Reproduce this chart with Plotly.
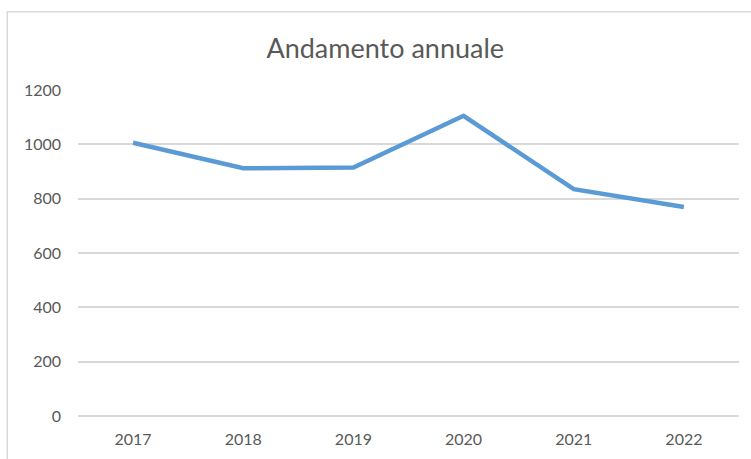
"""Line chart of the yearly trend ("Andamento annuale"), Excel-like style."""

import plotly.graph_objects as go

YEARS = ["2017", "2018", "2019", "2020", "2021", "2022"]
VALUES = [1006, 912, 915, 1105, 835, 769]
Y_TICKS = [0, 200, 400, 600, 800, 1000, 1200]

TEXT_COLOR = "#595959"
GRID_COLOR = "#d9d9d9"
LINE_COLOR = "#5b9bd5"
FONT = "Lato, 'Noto Sans', sans-serif"

fig = go.Figure(
    go.Scatter(
        x=YEARS,
        y=VALUES,
        mode="lines",
        line={"color": LINE_COLOR, "width": 4.5},
        hovertemplate="%{x}: %{y}<extra></extra>",
    )
)

fig.update_layout(
    width=751,
    height=459,
    paper_bgcolor="white",
    plot_bgcolor="white",
    showlegend=False,
    margin={"l": 78, "r": 12, "t": 90, "b": 43},
    font={"family": FONT, "color": TEXT_COLOR, "size": 16},
    title={
        "text": "Andamento annuale",
        "font": {"family": FONT, "size": 27, "color": TEXT_COLOR},
        "xref": "container",
        "yref": "container",
        "x": 0.513,
        "y": 0.895,
        "xanchor": "center",
        "yanchor": "middle",
    },
    # chart-area border, cropped at the right and bottom like the original
    shapes=[
        {
            "type": "rect",
            "xref": "paper",
            "yref": "paper",
            "x0": -0.107,
            "x1": 1.2,
            "y0": -0.4,
            "y1": 1.24,
            "line": {"color": GRID_COLOR, "width": 1.5},
            "fillcolor": "rgba(0,0,0,0)",
            "layer": "below",
        }
    ],
)

fig.update_xaxes(
    type="category",
    range=[-0.5, len(YEARS) - 0.5],
    showgrid=False,
    showline=False,
    zeroline=False,
    ticks="",
    ticklabelstandoff=12,
    tickfont={"size": 16, "color": TEXT_COLOR},
)
fig.update_yaxes(
    range=[0, 1200],
    tickvals=Y_TICKS,
    showgrid=True,
    gridcolor=GRID_COLOR,
    gridwidth=1.5,
    zeroline=True,
    zerolinecolor=GRID_COLOR,
    zerolinewidth=1.5,
    showline=False,
    ticks="",
    ticklabelstandoff=16,
    tickfont={"size": 16, "color": TEXT_COLOR},
)

fig.write_html(
    "out.html",
    config={"displayModeBar": False},
    post_script="document.body.style.margin = '0';",
)
